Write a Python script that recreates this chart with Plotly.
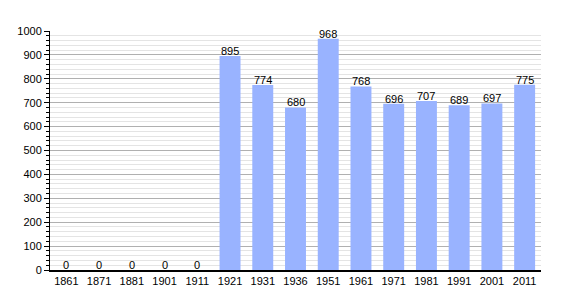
import plotly.graph_objects as go

years = ["1861", "1871", "1881", "1901", "1911", "1921", "1931", "1936", "1951", "1961",
         "1971", "1981", "1991", "2001", "2011"]
population = [0, 0, 0, 0, 0, 895, 774, 680, 968, 768, 696, 707, 689, 697, 775]
y_ticks = [0, 100, 200, 300, 400, 500, 600, 700, 800, 900, 1000]

fig = go.Figure()
fig.add_trace(go.Bar(
    x=years, y=population,
    marker=dict(color="#99b3ff", line=dict(width=0)),
))
for i, v in enumerate(population):
    fig.add_annotation(x=i, y=v, text=str(v), showarrow=False, yanchor="bottom",
                       yshift=-3, font=dict(family="Liberation Sans, Arial", size=11, color="#000"))
fig.update_layout(
    width=570, height=300,
    margin=dict(l=50, r=29, t=31, b=30),
    paper_bgcolor="white", plot_bgcolor="white",
    bargap=0.36,
    showlegend=False,
    font=dict(family="Liberation Sans, Arial", size=11, color="#000"),
)
fig.update_xaxes(
    type="category", showgrid=False, showline=True, linecolor="#000", linewidth=1.5,
    ticks="", tickfont=dict(size=11), ticklabelstandoff=0,
)
fig.update_yaxes(
    range=[0, 1000], tickvals=y_ticks, showgrid=True, gridcolor="#b0b0b0", gridwidth=1,
    showline=True, linecolor="#000", linewidth=1, ticks="outside", ticklen=5, tickcolor="#000",
    minor=dict(dtick=20, showgrid=True, gridcolor="#e4e4e4", gridwidth=1,
               ticks="outside", ticklen=3, tickcolor="#000"),
    zeroline=False, tickfont=dict(size=11),
)
fig.write_html("out.html")
